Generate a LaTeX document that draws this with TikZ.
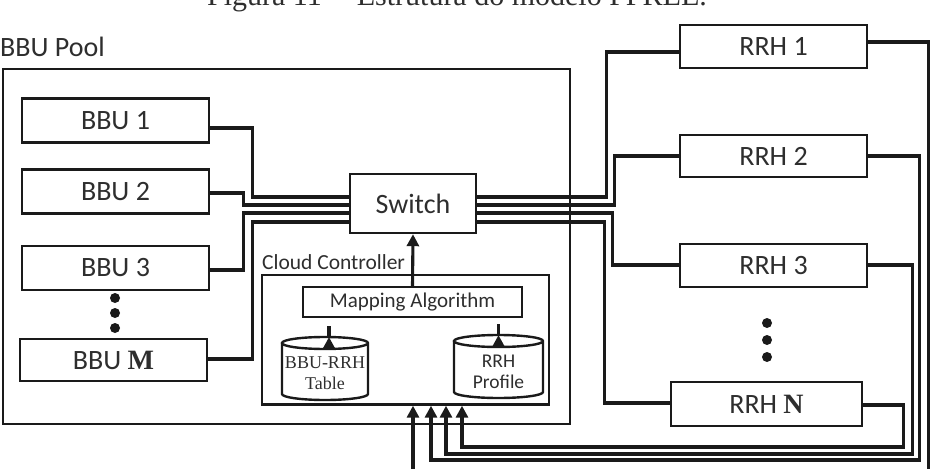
\documentclass[tikz,border=0pt]{standalone}
\usepackage{fontspec}
\setmainfont{Carlito}
\newfontfamily\serifx{Liberation Serif}
\usetikzlibrary{arrows.meta,calc}
\definecolor{ink}{HTML}{1A1A1A}
\definecolor{txt}{HTML}{2E2E2E}
\begin{document}
\begin{tikzpicture}[x=1pt,y=-1pt,
  box/.style={draw=ink, line width=2.4pt, inner sep=0pt, text=txt, font=\fontsize{28}{30}\selectfont},
  bbubox/.style={box, minimum width=187pt, minimum height=44pt},
  wire/.style={draw=ink, line width=3.1pt},
  arr/.style={wire, -{Triangle[width=12pt,length=12pt]}},
  dot/.style={circle, fill=ink, minimum size=10pt, inner sep=0pt},
  lbl/.style={inner sep=0pt, text=txt},
  cyl/.style={draw=ink, line width=2.4pt}
]
\useasboundingbox (0,0) rectangle (933,468);
\clip (0,0) rectangle (933,468);

% caption (cut at the top, as in the reference)
\node[lbl, anchor=base, font=\serifx\fontsize{30}{32}\selectfont] (cap) at (457,6) {Figura 11 -- Estrutura do modelo FFREE.};

% BBU pool
\node[draw=ink, line width=2.4pt, minimum width=567pt, minimum height=355pt, inner sep=0pt] (pool) at (286.5,246.5) {};
\node[lbl, anchor=base west, font=\fontsize{28}{30}\selectfont] (poollbl) at (0,57) {BBU Pool};

\node[bbubox] (bbu1) at (115.5,120.5) {BBU 1};
\node[bbubox] (bbu2) at (115.5,191.3) {BBU 2};
\node[bbubox] (bbu3) at (115.5,268) {BBU 3};
\node[bbubox, minimum height=42pt] (bbuM) at (113.5,360) {BBU {\serifx\bfseries M}};
\node[dot] (bd1) at (115,298) {};
\node[dot] (bd2) at (115,313) {};
\node[dot] (bd3) at (115,328) {};

% switch
\node[box, minimum width=126pt, minimum height=59pt] (sw) at (413,203.5) {Switch};
\coordinate (sl1) at ($(sw.west)+(0,-6.5)$);
\coordinate (sl2) at ($(sw.west)+(0,1.5)$);
\coordinate (sl3) at ($(sw.west)+(0,9.5)$);
\coordinate (sl4) at ($(sw.west)+(0,18.5)$);
\coordinate (sr1) at ($(sw.east)+(0,-6.5)$);
\coordinate (sr2) at ($(sw.east)+(0,1.5)$);
\coordinate (sr3) at ($(sw.east)+(0,9.5)$);
\coordinate (sr4) at ($(sw.east)+(0,18.5)$);

% cloud controller
\node[draw=ink, line width=2.4pt, minimum width=287pt, minimum height=129.5pt, inner sep=0pt] (cc) at (405.5,339.75) {};
\node[lbl, anchor=base west, font=\fontsize{21.5}{23}\selectfont] (cclbl) at (262,269.5) {Cloud Controller};
\node[box, minimum width=219pt, minimum height=30pt, font=\fontsize{21}{23}\selectfont] (map) at (412.5,302) {Mapping Algorithm};

% databases
\node[lbl, align=center, font=\serifx\fontsize{18}{21}\selectfont] (tbl) at (325,373) {BBU-RRH\\Table};
\draw[cyl] ($(tbl.center)+(-43,-30)$) -- ($(tbl.center)+(-43,21)$)
  arc[start angle=180, end angle=360, x radius=43pt, y radius=6pt]
  -- ($(tbl.center)+(43,-30)$)
  arc[start angle=0, end angle=360, x radius=43pt, y radius=6pt];
\node[lbl, align=center, font=\fontsize{19.5}{21}\selectfont] (prof) at (498.5,372) {RRH\\Profile};
\draw[cyl] ($(prof.center)+(-44.5,-31)$) -- ($(prof.center)+(-44.5,20)$)
  arc[start angle=180, end angle=360, x radius=44.5pt, y radius=6pt]
  -- ($(prof.center)+(44.5,-31)$)
  arc[start angle=0, end angle=360, x radius=44.5pt, y radius=6pt];

\draw[arr] (map.north) -- (sw.south);
\draw[arr] ($(tbl.center)+(4,-36)$) -- ($(tbl.center)+(4,-36)$ |- map.south);
\draw[arr] ($(prof.center)+(0,-37)$) -- ($(prof.center)+(0,-37)$ |- map.south);

% RRHs
\node[bbubox, minimum height=43pt] (rrh1) at (773.5,46.5) {RRH 1};
\node[bbubox, minimum height=42pt] (rrh2) at (773.5,156) {RRH 2};
\node[bbubox, minimum height=43pt] (rrh3) at (773.5,265.5) {RRH 3};
\node[bbubox, minimum width=191pt] (rrhN) at (766.5,404) {RRH {\serifx\bfseries N}};
\node[dot] (rd1) at (767,323) {};
\node[dot] (rd2) at (767,340) {};
\node[dot] (rd3) at (767,357) {};

% BBU -> switch
\draw[wire] ($(bbu1.east)+(0,7.5)$) -- ++(42,0) |- (sl1);
\draw[wire] ($(bbu2.east)+(0,1.7)$) -- ++(33,0) |- (sl2);
\draw[wire] ($(bbu3.east)+(0,2)$) -- ++(33,0) |- (sl3);
\draw[wire] ($(bbuM.east)+(0,-1)$) -- ++(44,0) |- (sl4);

% switch -> RRH
\draw[wire] (sr1) -- ++(129,0) |- ($(rrh1.west)+(0,5.5)$);
\draw[wire] (sr2) -- ++(137,0) |- (rrh2.west);
\draw[wire] (sr3) -- ++(135,0) |- ($(rrh3.west)+(0,-0.5)$);
\draw[wire] (sr4) -- ++(127,0) |- ($(rrhN.west)+(0,-1)$);

% RRH feedback -> cloud controller
\coordinate (a1) at ($(cc.south)+(7.5,0)$);
\coordinate (a2) at ($(cc.south)+(25.5,0)$);
\coordinate (a3) at ($(cc.south)+(40.5,0)$);
\coordinate (a4) at ($(cc.south)+(56.5,0)$);
\draw[arr] ($(rrh1.east)+(0,-4.5)$) -- ++(60,0) -- ++(0,430) -| (a1);
\draw[arr] (rrh2.east) -- ++(51,0) -- ++(0,304) -| (a2);
\draw[arr] ($(rrh3.east)+(0,-0.5)$) -- ++(44,0) -- ++(0,189) -| (a3);
\draw[arr] ($(rrhN.east)+(0,1)$) -- ++(40,0) -- ++(0,42) -| (a4);
\end{tikzpicture}
\end{document}
